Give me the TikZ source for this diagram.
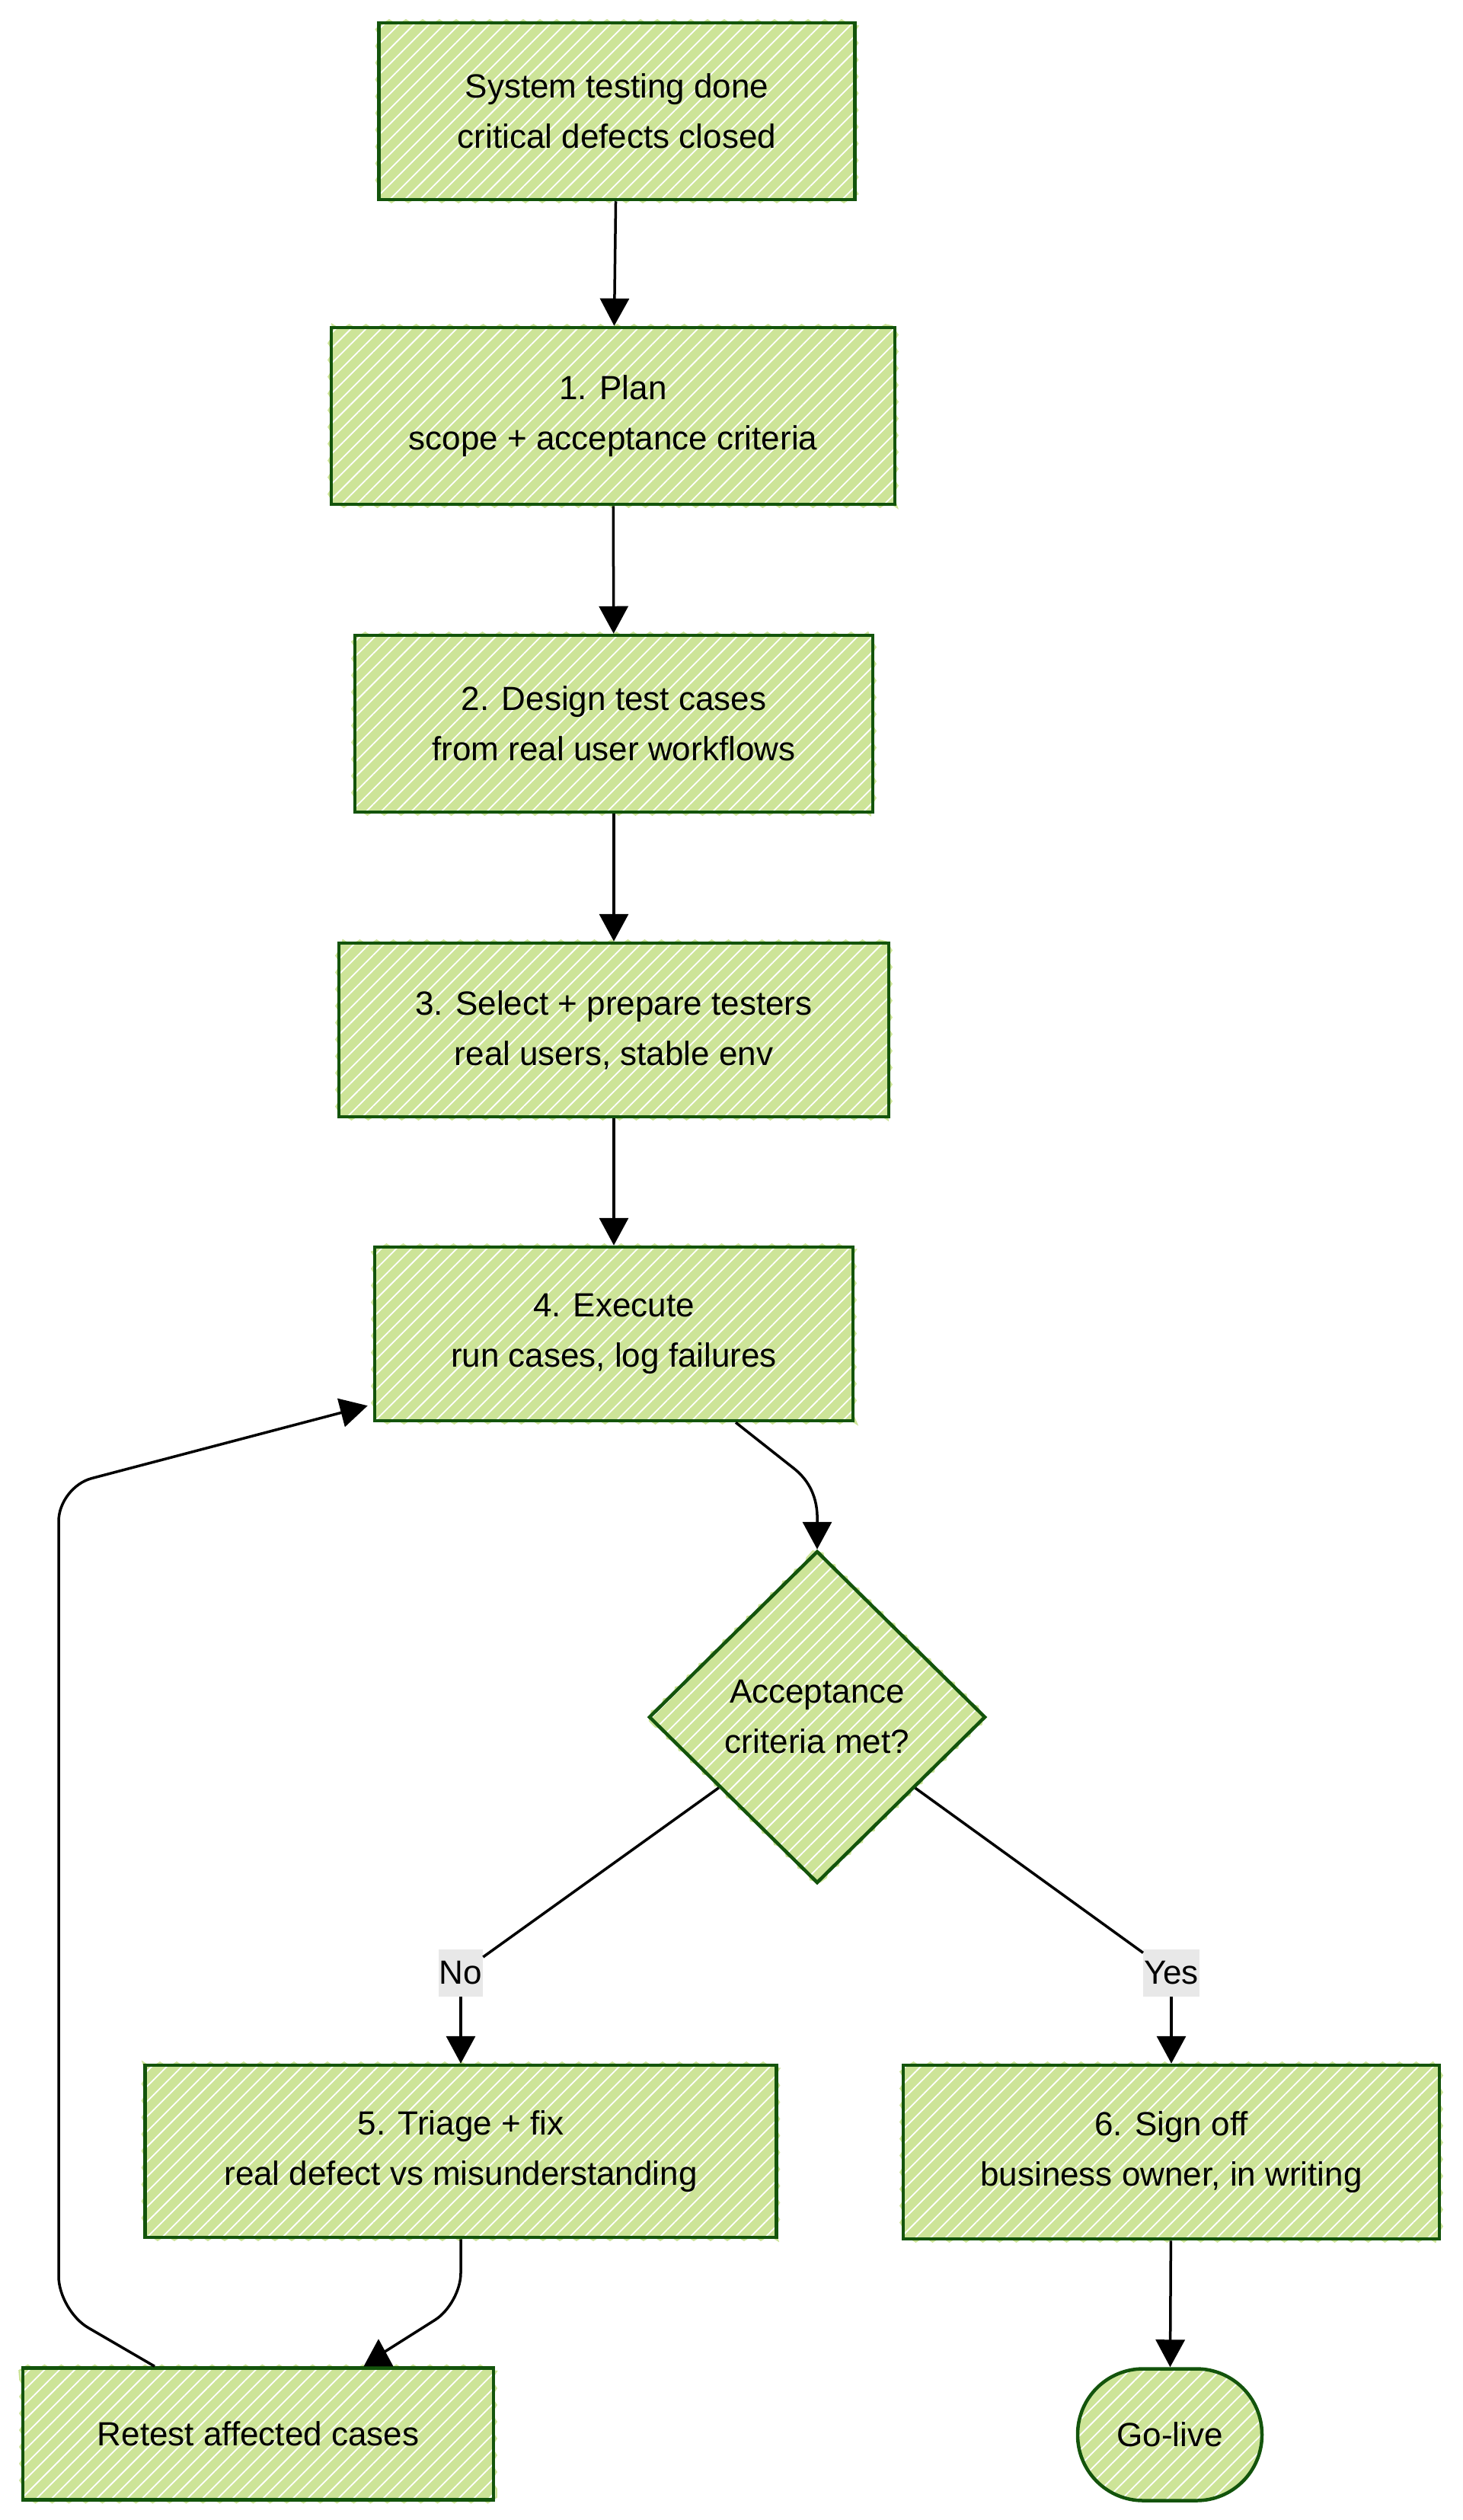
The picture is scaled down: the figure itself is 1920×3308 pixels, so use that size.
\documentclass[tikz,border=0pt]{standalone}
\usepackage{fontspec}
\setmainfont{Liberation Sans}
\usetikzlibrary{arrows.meta,shapes.geometric,patterns.meta,decorations.pathmorphing}
\definecolor{boxFill}{HTML}{CDE498}
\definecolor{boxBorder}{HTML}{13540C}
\definecolor{labelFill}{HTML}{E8E8E8}
\tikzset{
  roughFill/.style={
    preaction={fill=boxFill},
    pattern={Lines[angle=45,distance=14pt,line width=1.8pt]},
    pattern color=white,
    draw=boxBorder, line width=4.5pt
  },
  roughEdge/.style={
    preaction={draw=boxFill, line width=2.5pt, decorate,
      decoration={zigzag, amplitude=3.5pt, segment length=22pt}}
  },
  boxText/.style={
    align=center, inner sep=0pt,
    font=\fontsize{44pt}{66pt}\selectfont
  },
  flowBox/.style={
    roughEdge, roughFill, boxText, rectangle,
    minimum height=\boxHeight
  },
  decisionBox/.style={
    flowBox, diamond, minimum width=442pt, minimum height=436pt
  },
  terminalBox/.style={
    roughFill, boxText, rectangle, rounded corners=86pt, minimum height=173pt
  },
  edgeLabel/.style={
    fill=labelFill, inner xsep=1pt, inner ysep=0pt, minimum height=62pt,
    font=\fontsize{44pt}{66pt}\selectfont
  },
  flowLine/.style={draw=black, line width=3.5pt},
  flowArrow/.style={flowLine, -{Triangle[width=38pt,length=36pt]}}
}
\newlength\boxHeight
\setlength\boxHeight{232pt}

\begin{document}
\begin{tikzpicture}[x=1pt,y=1pt]
    \useasboundingbox (0,0) rectangle (1920,-3308);

    % main column
    \node[flowBox, minimum width=625pt] (start) at (810,-146)
      {System testing done\\critical defects closed};
    \node[flowBox, minimum width=740pt] (plan) at (805,-546)
      {1. Plan\\scope + acceptance criteria};
    \node[flowBox, minimum width=680pt] (design) at (806,-950)
      {2. Design test cases\\from real user workflows};
    \node[flowBox, minimum width=722pt, minimum height=228pt] (select) at (806,-1352)
      {3. Select + prepare testers\\real users, stable env};
    \node[flowBox, minimum width=628pt, minimum height=228pt] (exec) at (806,-1751)
      {4. Execute\\run cases, log failures};

    % decision and branches
    \node[decisionBox] (decide) at (1073,-2254) {Acceptance\\criteria met?};
    \node[flowBox, minimum width=829pt, minimum height=226pt] (triage) at (605,-2824)
      {5. Triage + fix\\real defect vs misunderstanding};
    \node[flowBox, minimum width=704pt, minimum height=228pt] (signoff) at (1538,-2825)
      {6. Sign off\\business owner, in writing};
    \node[flowBox, minimum width=618pt, minimum height=173pt] (retest) at (339,-3195)
      {Retest affected cases};
    \node[terminalBox, minimum width=242pt] (golive) at (1536,-3196) {Go-live};

    % edge labels
    \node[edgeLabel] (noLabel) at (605,-2590) {No};
    \node[edgeLabel] (yesLabel) at (1538,-2590) {Yes};

    % straight arrows
    \foreach \from/\to in {start/plan, plan/design, design/select, select/exec, signoff/golive}
      \draw[flowArrow] (\from) -- (\to);

    \draw[flowArrow] ([xshift=160pt]exec.south) -- ++(76,-60)
      to[out=-38,in=90] (decide.north);

    \draw[flowLine] (decide) -- (noLabel);
    \draw[flowArrow] (noLabel) -- (triage);
    \draw[flowLine] (decide) -- (yesLabel);
    \draw[flowArrow] (yesLabel) -- (signoff);

    % fix and retest
    \coordinate (trBend) at (605,-3024);
    \draw[flowLine, rounded corners=40pt] (triage.south) -- (trBend)
      -- ([xshift=158pt,yshift=14pt]retest.north);
    \draw[flowArrow] ([xshift=158pt]retest.north) -- ++(0,36);

    % loop back to execute
    \coordinate (loopLow) at (77,-3033);
    \coordinate (loopHigh) at (77,-1952);
    \draw[flowArrow, rounded corners=45pt] ([xshift=-136pt]retest.north)
      -- (loopLow) -- (loopHigh) -- ([xshift=-7pt,yshift=22pt]exec.south west);
\end{tikzpicture}
\end{document}
